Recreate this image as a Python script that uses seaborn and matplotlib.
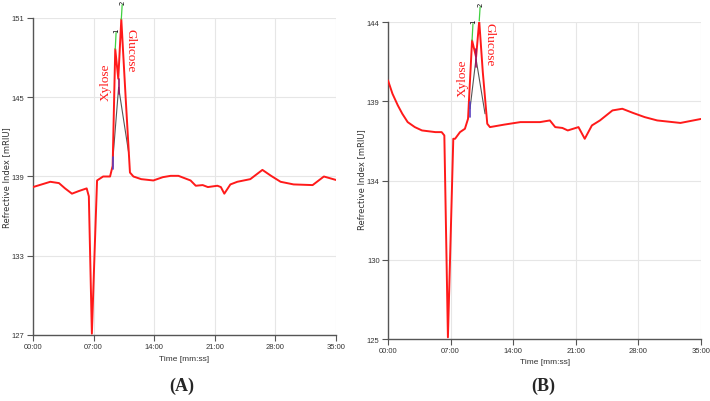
import matplotlib
matplotlib.use("Agg")
import matplotlib.pyplot as plt
import seaborn as sns
import pandas as pd

# ---------------- data (time in minutes, RI in mRIU) ----------------
time_a = [0.0, 1.0, 2.0, 3.0, 3.7, 4.5, 5.3, 6.2, 6.45, 6.8, 7.1, 7.4, 8.1, 8.9, 9.2,
          9.5, 9.85, 10.2, 10.7, 11.2, 11.6, 12.5, 13.9, 15.0, 15.9, 16.8, 18.2, 18.8,
          19.6, 20.2, 21.3, 21.7, 22.1, 22.8, 23.6, 25.1, 26.5, 27.5, 28.6, 30.1, 32.3,
          33.6, 35.2]
ri_a = [138.2, 138.4, 138.6, 138.5, 138.1, 137.7, 137.9, 138.1, 137.5, 127.1, 133.0,
        138.7, 139.0, 139.0, 139.8, 148.65, 146.4, 150.9, 145.0, 139.3, 139.0, 138.8,
        138.7, 138.95, 139.05, 139.05, 138.7, 138.3, 138.35, 138.2, 138.3, 138.2, 137.7,
        138.4, 138.6, 138.8, 139.5, 139.05, 138.6, 138.4, 138.35, 139.0, 138.7]

time_b = [0.0, 0.5, 1.1, 1.6, 2.2, 3.0, 3.8, 5.3, 6.0, 6.3, 6.7, 7.0, 7.3, 7.5, 8.05,
          8.6, 8.95, 9.4, 9.85, 10.2, 10.6, 11.1, 11.4, 13.0, 14.8, 17.0, 18.1, 18.7,
          19.5, 20.1, 21.3, 22.0, 22.8, 23.7, 25.1, 26.2, 27.4, 28.7, 30.1, 32.7, 35.1]
ri_b = [140.5, 139.7, 139.0, 138.5, 138.0, 137.7, 137.5, 137.4, 137.4, 137.2, 125.1,
        131.0, 137.0, 137.0, 137.4, 137.6, 138.2, 142.9, 141.9, 144.06, 141.0, 137.9,
        137.7, 137.85, 138.0, 138.0, 138.1, 137.7, 137.65, 137.5, 137.7, 137.0, 137.8,
        138.1, 138.7, 138.8, 138.55, 138.3, 138.1, 137.95, 138.2]

xticks = [0, 7, 14, 21, 28, 35]
xticklabels = ["00:00", "07:00", "14:00", "21:00", "28:00", "35:00"]
yticks_a = [127, 133, 139, 145, 151]
yticks_b = [125, 129.75, 134.5, 139.25, 144]
yticklabels_b = ["125", "130", "134", "139", "144"]

# peak annotation geometry (deconvolution triangle, peak markers)
tri_a_t = [9.2, 9.89, 11.05]
tri_a_v = [140.1, 145.75, 140.8]
mark_a = {"1": (9.5, 148.65, 149.9), "2": (10.2, 150.9, 152.0)}
tri_b_t = [9.17, 9.84, 10.85]
tri_b_v = [138.8, 141.8, 138.5]
mark_b = {"1": (9.4, 142.9, 143.9), "2": (10.2, 144.06, 144.9)}

sns.set_theme(style="whitegrid")
plt.rcParams["font.family"] = ["Liberation Sans", "DejaVu Sans"]

fig = plt.figure(figsize=(7.1, 4.02), dpi=100)
ax_a = fig.add_axes([33 / 710, 66 / 402, 303 / 710, 317 / 402])
ax_b = fig.add_axes([388 / 710, 62 / 402, 313 / 710, 317 / 402])

df_a = pd.DataFrame({"t": time_a, "ri": ri_a})
df_b = pd.DataFrame({"t": time_b, "ri": ri_b})

panels = [
    (ax_a, df_a, yticks_a, [str(v) for v in yticks_a], (127, 151), tri_a_t, tri_a_v, mark_a,
     (8.35, 146.2), (11.25, 148.6)),
    (ax_b, df_b, yticks_b, yticklabels_b, (125, 144), tri_b_t, tri_b_v, mark_b,
     (8.3, 140.7), (11.4, 142.7)),
]

for ax, df, yt, ytl, ylim, tt, tv, marks, xpos, gpos in panels:
    ax.set_facecolor("white")
    ax.plot(tt[:2], tv[:2], color="#555555", lw=0.8, zorder=2)
    ax.plot(tt[1:], tv[1:], color="#555555", lw=0.8, zorder=2)
    sns.lineplot(data=df, x="t", y="ri", ax=ax, color="#ff1a1a", lw=1.4, zorder=3,
                 estimator=None, sort=False)
    ax.plot([tt[0], tt[0]], [tv[0] - 0.5, tv[0] + 0.4], color="#5a3fc0", lw=1.2, zorder=4)
    ax.plot([tt[1], tt[1]], [tv[1] - 0.5, tv[1] + 0.6], color="#a01060", lw=1.2, zorder=4)
    for k, (t0, v0, v1) in marks.items():
        ax.plot([t0, t0 + 0.1], [v0, v1], color="#40d040", lw=0.9, zorder=4, clip_on=False)
        ax.text(t0 + 0.1, v1 + 0.05, k, fontsize=5, color="black", ha="center",
                va="bottom", rotation=90, clip_on=False, family="DejaVu Sans")
    ax.text(*xpos, "Xylose", rotation=90, color="#ff1a1a", fontsize=9.5,
            ha="center", va="center", family="Liberation Serif")
    ax.text(*gpos, "Glucose", rotation=270, color="#ff1a1a", fontsize=9.5,
            ha="center", va="center", family="Liberation Serif")

    ax.set_xlim(0, 35)
    ax.set_ylim(*ylim)
    ax.set_xticks(xticks)
    ax.set_xticklabels(xticklabels)
    ax.set_yticks(yt)
    ax.set_yticklabels(ytl)
    ax.grid(True, color="#e6e6e6", lw=0.8)
    for s in ["top", "right"]:
        ax.spines[s].set_visible(False)
    for s in ["left", "bottom"]:
        ax.spines[s].set_visible(True)
        ax.spines[s].set_color("#555555")
        ax.spines[s].set_linewidth(1.0)
    ax.tick_params(axis="both", which="major", length=4, width=0.8, color="#555555",
                   labelsize=5.5, labelcolor="#333333", direction="out",
                   left=True, bottom=True, pad=2)
    ax.set_xlabel("")
    ax.set_ylabel("")

# axis titles and panel labels placed in figure pixels
W, H = 710, 402
for (xl, yl), (tx, ty), (px, py), lab in [
    ((7, 178), (184, 360), (182, 386), "(A)"),
    ((362, 180), (545, 363), (543, 386), "(B)"),
]:
    fig.text(xl / W, 1 - yl / H, "Refrective Index [mRIU]", rotation=90, fontsize=6,
             color="#333333", ha="center", va="center", family="DejaVu Sans")
    fig.text(tx / W, 1 - ty / H, "Time [mm:ss]", fontsize=6, color="#333333",
             ha="center", va="center")
    fig.text(px / W, 1 - py / H, lab, fontsize=13, fontweight="bold", ha="center",
             va="center", family="Liberation Serif")

fig.savefig("out.png", dpi=100, facecolor="white")
